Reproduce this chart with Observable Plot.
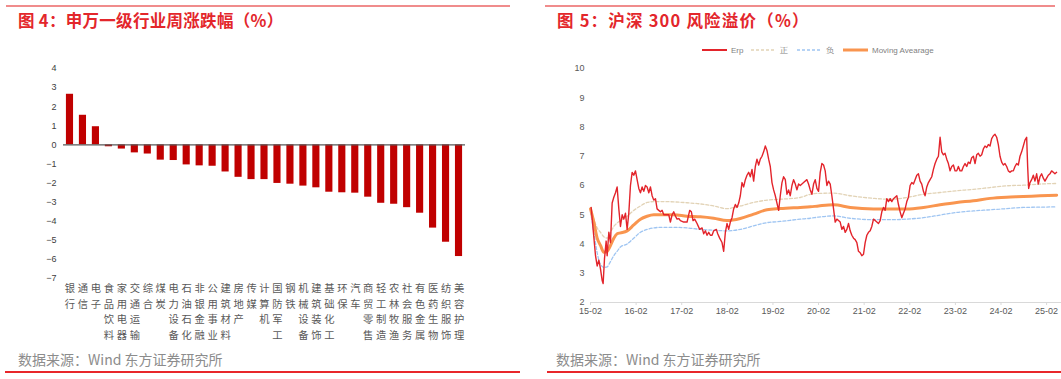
<!DOCTYPE html>
<html><head><meta charset="utf-8">
<script src="https://cdn.jsdelivr.net/npm/d3@7"></script>
<script src="https://cdn.jsdelivr.net/npm/@observablehq/plot@0.6"></script>
<style>
body{margin:0;width:1061px;height:379px;overflow:hidden;background:#fff;font-family:"Noto Sans CJK SC","Noto Sans",sans-serif;position:relative}
.topline{position:absolute;top:5px;height:2px;background:#f08c8c}
.botline{position:absolute;top:371px;height:2px;background:#e8262a}
.title{position:absolute;top:9px;line-height:22px;font-size:16.5px;font-weight:bold;color:#e3262b;white-space:nowrap}
.src{position:absolute;top:350px;font-size:14px;line-height:18px;color:#8c8c8c;white-space:nowrap}
.chart{position:absolute}
.leg{position:absolute;top:44px;height:12px;display:flex;align-items:center;font-size:8px;color:#7f7f7f;font-family:"Liberation Sans",Arial,sans-serif;white-space:nowrap}
.leg svg{margin-right:4px}
</style></head><body>
<div class="topline" style="left:6px;width:504px"></div>
<div class="topline" style="left:545px;width:510px"></div>
<div class="title" style="left:18px;letter-spacing:0.3px">图 4：申万一级行业周涨跌幅（%）</div>
<div class="title" style="left:557px;letter-spacing:1.2px">图 5：沪深 300 风险溢价（%）</div>
<div id="left" class="chart" style="left:0;top:55px"></div>
<div id="right" class="chart" style="left:540px;top:58px"></div>
<div id="legend"></div>
<div class="src" style="left:18px">数据来源：Wind 东方证券研究所</div>
<div class="src" style="left:556px">数据来源：Wind 东方证券研究所</div>
<div class="botline" style="left:5px;width:515px"></div>
<div class="botline" style="left:547px;width:514px"></div>
<script>
// ---------- Figure 4 data ----------
const industries = ["银行","通信","电子","食品饮料","家用电器","交通运输","综合","煤炭","电力设备","石油石化","非银金融","公用事业","建筑材料","房地产","传媒","计算机","国防军工","钢铁","机械设备","建筑装饰","基础化工","环保","汽车","商贸零售","轻工制造","农林牧渔","社会服务","有色金属","医药生物","纺织服饰","美容护理"];
const weeklyChange = [2.65,1.55,0.95,-0.1,-0.22,-0.42,-0.48,-0.8,-0.82,-1.05,-1.1,-1.12,-1.42,-1.7,-1.82,-1.82,-2.02,-2.06,-2.16,-2.25,-2.48,-2.51,-2.53,-2.74,-3.06,-3.11,-3.29,-3.58,-4.36,-5.1,-5.85];
const leftYTicks = [4,3,2,1,0,-1,-2,-3,-4,-5,-6,-7];

// ---------- Figure 5 data ----------
const rightXTickLabels = ["15-02","16-02","17-02","18-02","19-02","20-02","21-02","22-02","23-02","24-02","25-02"];
const rightYTicks = [2,3,4,5,6,7,8,9,10];
const erpSeries = [
[2015.098,5.25],[2015.141,4.5],[2015.193,3.6],[2015.229,3.25],[2015.266,3.45],[2015.302,3.15],[2015.339,2.75],[2015.360,2.65],[2015.390,3.5],[2015.426,4.1],[2015.448,3.6],[2015.485,4.4],[2015.521,4.05],[2015.558,5.4],[2015.594,5.6],[2015.631,5.75],[2015.667,5.95],[2015.704,5.2],[2015.740,4.6],[2015.777,5.0],[2015.813,4.85],[2015.850,5.05],[2015.886,4.5],[2015.923,5.05],[2015.959,6.0],[2015.996,6.45],
[2016.032,6.35],[2016.069,6.5],[2016.105,6.2],[2016.142,5.9],[2016.178,5.75],[2016.215,5.95],[2016.251,5.8],[2016.288,6.0],[2016.324,5.95],[2016.361,5.75],[2016.397,5.95],[2016.434,5.65],[2016.470,5.5],[2016.507,5.55],[2016.543,5.2],[2016.580,5.15],[2016.616,5.1],[2016.653,5.15],[2016.689,5.0],[2016.726,5.0],[2016.799,5.0],[2016.835,4.75],[2016.872,5.0],[2016.908,5.1],[2016.945,4.95],[2016.981,4.85],
[2017.018,4.87],[2017.054,4.8],[2017.127,4.75],[2017.200,4.75],[2017.258,5.15],[2017.295,5.1],[2017.331,4.8],[2017.368,4.85],[2017.419,4.7],[2017.477,4.5],[2017.529,4.55],[2017.565,4.35],[2017.602,4.45],[2017.638,4.3],[2017.675,4.4],[2017.711,4.3],[2017.748,4.3],[2017.784,4.45],[2017.843,4.5],[2017.872,4.35],[2017.915,4.2],[2017.967,4.05],
[2018.003,3.75],[2018.040,4.4],[2018.076,4.7],[2018.113,4.5],[2018.149,4.75],[2018.186,4.9],[2018.222,5.2],[2018.259,5.35],[2018.295,5.25],[2018.332,5.4],[2018.368,5.65],[2018.405,6.1],[2018.441,5.95],[2018.478,6.2],[2018.514,6.35],[2018.551,6.45],[2018.587,6.3],[2018.624,6.55],[2018.660,6.15],[2018.697,6.65],[2018.733,6.9],[2018.770,6.7],[2018.806,6.9],[2018.843,7.0],[2018.879,7.15],[2018.916,7.35],[2018.952,7.2],[2018.989,6.9],
[2019.025,6.65],[2019.062,6.1],[2019.098,5.85],[2019.135,5.65],[2019.171,5.4],[2019.208,5.15],[2019.244,5.65],[2019.281,6.1],[2019.317,6.3],[2019.354,6.2],[2019.390,5.7],[2019.427,5.85],[2019.463,5.65],[2019.500,6.0],[2019.536,6.2],[2019.573,6.05],[2019.609,5.85],[2019.646,6.05],[2019.682,6.0],[2019.755,6.1],[2019.828,6.2],[2019.864,6.05],[2019.901,5.85],[2019.937,5.7],[2019.974,6.05],
[2020.010,6.2],[2020.047,5.9],[2020.083,5.8],[2020.120,6.45],[2020.156,6.75],[2020.193,6.7],[2020.229,6.5],[2020.266,6.0],[2020.302,6.15],[2020.339,6.05],[2020.375,5.65],[2020.412,5.2],[2020.448,4.75],[2020.485,4.85],[2020.521,4.8],[2020.558,4.75],[2020.594,4.5],[2020.631,4.6],[2020.667,4.4],[2020.704,4.5],[2020.740,4.7],[2020.777,4.45],[2020.813,4.3],[2020.850,4.2],[2020.886,4.15],[2020.923,4.05],[2020.959,3.75],[2020.996,3.7],
[2021.032,3.6],[2021.069,3.65],[2021.105,4.05],[2021.142,4.3],[2021.178,4.4],[2021.215,4.45],[2021.251,4.6],[2021.288,4.85],[2021.324,4.8],[2021.361,4.75],[2021.397,4.7],[2021.434,4.8],[2021.470,5.1],[2021.507,5.25],[2021.543,5.15],[2021.580,5.55],[2021.616,5.45],[2021.653,5.55],[2021.689,5.45],[2021.726,5.55],[2021.762,5.6],[2021.799,5.65],[2021.835,5.35],[2021.872,5.1],[2021.908,4.9],[2021.945,5.05],[2021.981,5.2],
[2022.018,5.45],[2022.054,5.6],[2022.091,6.0],[2022.127,6.1],[2022.164,6.05],[2022.200,6.2],[2022.237,6.35],[2022.273,6.4],[2022.310,6.15],[2022.346,6.05],[2022.383,5.8],[2022.419,5.65],[2022.456,5.95],[2022.492,6.1],[2022.529,6.2],[2022.565,6.3],[2022.602,6.55],[2022.638,6.75],[2022.675,6.9],[2022.711,7.0],[2022.748,7.65],[2022.784,7.15],[2022.821,7.05],[2022.857,7.1],[2022.894,6.9],[2022.930,6.75],[2022.967,6.5],
[2023.003,6.65],[2023.040,6.7],[2023.076,6.5],[2023.113,6.5],[2023.149,6.65],[2023.186,6.5],[2023.222,6.5],[2023.259,6.65],[2023.295,6.75],[2023.332,6.65],[2023.368,6.8],[2023.405,6.75],[2023.441,6.95],[2023.478,7.0],[2023.514,6.75],[2023.551,7.05],[2023.587,7.1],[2023.624,7.0],[2023.660,7.05],[2023.697,7.25],[2023.733,7.35],[2023.770,7.3],[2023.806,7.4],[2023.843,7.35],[2023.879,7.6],[2023.916,7.7],[2023.952,7.75],[2023.989,7.65],
[2024.025,7.4],[2024.062,7.0],[2024.098,6.8],[2024.135,6.7],[2024.171,6.75],[2024.208,6.65],[2024.244,6.5],[2024.281,6.45],[2024.317,6.5],[2024.354,6.5],[2024.390,6.65],[2024.427,6.75],[2024.463,6.7],[2024.500,7.0],[2024.536,7.15],[2024.573,7.35],[2024.609,7.55],[2024.646,7.65],[2024.668,6.65],[2024.690,5.9],[2024.719,6.1],[2024.755,6.2],[2024.792,6.35],[2024.828,6.15],[2024.865,6.4],[2024.901,6.05],[2024.938,6.3],[2024.974,6.4],
[2025.011,6.25],[2025.047,6.15],[2025.084,6.25],[2025.120,6.35],[2025.157,6.4],[2025.193,6.5],[2025.230,6.45],[2025.266,6.4],[2025.303,6.45]
];
const bandDates = [2015.083,2015.156,2015.229,2015.302,2015.375,2015.448,2015.521,2015.594,2015.667,2015.740,2015.886,2016.032,2016.178,2016.324,2016.470,2016.616,2016.908,2017.200,2017.492,2017.784,2018.076,2018.368,2018.660,2018.952,2019.244,2019.682,2019.901,2020.083,2020.412,2020.777,2021.288,2021.653,2022.018,2022.383,2022.748,2023.113,2023.478,2023.843,2024.208,2024.573,2024.938,2025.303];
const movingAverage = [5.2,4.75,4.2,3.95,3.72,3.75,3.95,4.2,4.35,4.38,4.45,4.65,4.85,4.95,5.0,5.0,5.0,4.95,4.93,4.88,4.8,4.87,5.02,5.17,5.21,5.25,5.27,5.3,5.34,5.25,5.2,5.2,5.2,5.25,5.34,5.42,5.48,5.56,5.6,5.62,5.65,5.67];
const upperBand = [5.25,4.85,4.55,4.4,4.25,4.2,4.4,4.6,4.72,4.8,4.95,5.15,5.3,5.42,5.45,5.45,5.44,5.41,5.37,5.3,5.21,5.3,5.42,5.5,5.53,5.59,5.7,5.73,5.74,5.65,5.56,5.53,5.59,5.7,5.76,5.82,5.87,5.93,5.99,6.01,6.05,6.07];
const lowerBand = [5.1,4.4,3.7,3.3,3.2,3.22,3.4,3.6,3.75,3.9,4.0,4.2,4.4,4.5,4.55,4.57,4.57,4.55,4.5,4.47,4.45,4.5,4.62,4.73,4.77,4.85,4.88,4.92,4.96,4.88,4.83,4.83,4.85,4.9,4.99,5.08,5.13,5.17,5.21,5.25,5.26,5.27];

// ---------- Figure 4 ----------
const barData = industries.map((name, i) => ({name, v: weeklyChange[i]}));
const left = Plot.plot({
  width: 520, height: 295,
  marginLeft: 63, marginRight: 55, marginTop: 13, marginBottom: 72,
  style: {fontFamily: "'Noto Sans CJK SC', sans-serif", background: "transparent"},
  x: {domain: industries, paddingInner: 0.45, paddingOuter: 0.225, round: false, axis: null},
  y: {domain: [-7, 4], axis: null},
  marks: [
    Plot.barY(barData, {x: "name", y: "v", fill: "#c00000"}),
    Plot.ruleY([0], {stroke: "#595959", strokeWidth: 1.2}),
    Plot.axisY({ticks: leftYTicks, tickSize: 0, tickPadding: 7, fontSize: 9, fill: "#404040", label: null,
      fontFamily: "'Liberation Sans', Arial, sans-serif"}),
    Plot.text(industries, {x: d => d, text: d => d.split("").join("\n"),
      frameAnchor: "bottom", lineAnchor: "top", dy: 3, lineHeight: 1.5,
      fontSize: 10.3, fill: "#595959"})
  ]
});
document.getElementById("left").appendChild(left);

// ---------- Figure 5 ----------
const tickPos = rightXTickLabels.map(s => 2000 + +s.slice(0, 2) + (+s.slice(3) - 1) / 12);
const erp = erpSeries.map(([x, y]) => ({x, y}));
const band = (vals) => bandDates.map((x, i) => ({x, y: vals[i]}));
const right = Plot.plot({
  width: 521, height: 264,
  marginLeft: 50, marginRight: 0, marginTop: 10, marginBottom: 20,
  style: {fontFamily: "'Liberation Sans', Arial, sans-serif", background: "transparent"},
  x: {domain: [2015.083, 2025.41], axis: null},
  y: {domain: [2, 10], axis: null},
  marks: [
    Plot.ruleY([2], {stroke: "#d9d9d9", strokeWidth: 1.2}),
    Plot.axisX({ticks: tickPos, tickFormat: d => rightXTickLabels[tickPos.indexOf(d)], label: null,
      tickSize: 3, tickPadding: 2, stroke: "#d9d9d9", fill: "#595959", fontSize: 9}),
    Plot.axisY({ticks: rightYTicks, tickSize: 0, tickPadding: 6, fill: "#595959", fontSize: 9, label: null}),
    Plot.line(band(upperBand), {x: "x", y: "y", stroke: "#e2d3b6", strokeWidth: 1.3, strokeDasharray: "3,2", curve: "monotone-x"}),
    Plot.line(band(lowerBand), {x: "x", y: "y", stroke: "#9fc5f2", strokeWidth: 1.3, strokeDasharray: "3,2", curve: "monotone-x"}),
    Plot.line(band(movingAverage), {x: "x", y: "y", stroke: "#f9954f", strokeWidth: 3, curve: "monotone-x"}),
    Plot.line(erp, {x: "x", y: "y", stroke: "#e3242b", strokeWidth: 1.4})
  ]
});
document.getElementById("right").appendChild(right);

// ---------- legend ----------
const legendItems = [
  {label: "Erp", color: "#e3242b", width: 2, dash: null, left: 702},
  {label: "正", color: "#e2d3b6", width: 1.3, dash: "3,2", left: 751},
  {label: "负", color: "#9fc5f2", width: 1.3, dash: "3,2", left: 797},
  {label: "Moving Avearage", color: "#f9954f", width: 3, dash: null, left: 843}
];
const lg = document.getElementById("legend");
for (const it of legendItems) {
  const d = document.createElement("div");
  d.className = "leg";
  d.style.left = it.left + "px";
  d.innerHTML = `<svg width="25" height="6"><line x1="0" x2="25" y1="3" y2="3" stroke="${it.color}" stroke-width="${it.width}" ${it.dash ? `stroke-dasharray="${it.dash}"` : ""}/></svg><span>${it.label}</span>`;
  lg.appendChild(d);
}
</script>
</body></html>
